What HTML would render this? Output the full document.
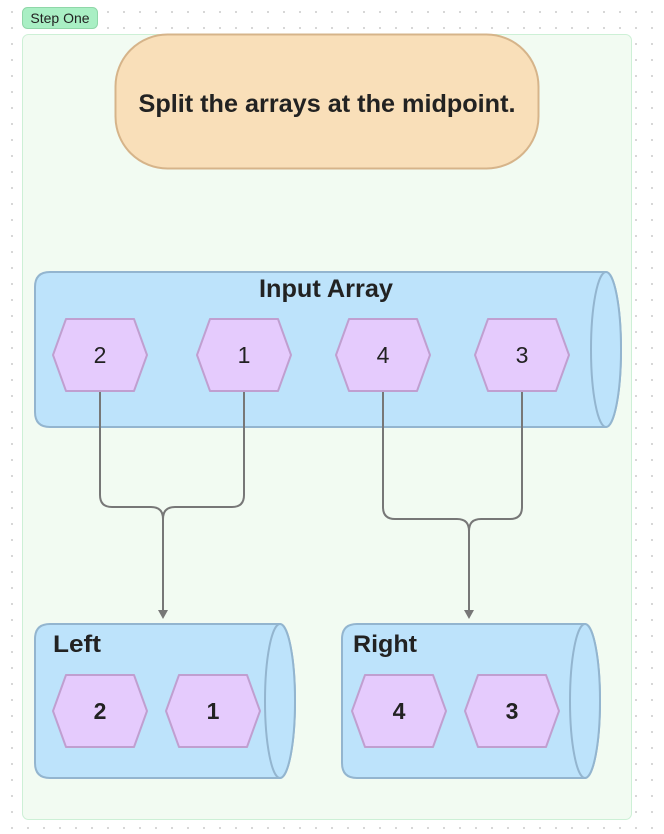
<!DOCTYPE html>
<html><head><style>
body{margin:0;width:664px;height:834px;overflow:hidden;background:#fff;
background-image:radial-gradient(circle,#cfcfcf 0.8px,transparent 1.2px);background-size:16px 16px;background-position:4px 4px;}
svg{position:absolute;left:0;top:0}
text{font-family:"Liberation Sans",sans-serif;fill:#222}
</style></head><body>
<svg width="664" height="834" viewBox="0 0 664 834">
<rect x="22.5" y="34.5" width="609" height="785" rx="6" fill="#f2fbf2" stroke="#cdf0d6"/>
<rect x="22.5" y="7.5" width="75" height="21" rx="5" fill="#a9efc4" stroke="#8fd7a8"/>
<text x="60" y="23" font-size="14" text-anchor="middle">Step One</text>
<rect x="115.5" y="34.5" width="423" height="134" rx="52" fill="#f9dfb9" stroke="#d6b48a" stroke-width="2"/>
<text x="327" y="112" font-size="25" font-weight="bold" text-anchor="middle" textLength="377" lengthAdjust="spacingAndGlyphs">Split the arrays at the midpoint.</text>

<g fill="#bde3fb" stroke="#93b5cf" stroke-width="2">
<path d="M50 272 H606 A15 77.5 0 0 1 606 427 H50 Q35 427 35 412 V287 Q35 272 50 272 Z"/>
<ellipse cx="606" cy="349.5" rx="15" ry="77.5"/>
<path d="M50 624 H280 A15 77 0 0 1 280 778 H50 Q35 778 35 763 V639 Q35 624 50 624 Z"/>
<ellipse cx="280" cy="701" rx="15" ry="77"/>
<path d="M357 624 H585 A15 77 0 0 1 585 778 H357 Q342 778 342 763 V639 Q342 624 357 624 Z"/>
<ellipse cx="585" cy="701" rx="15" ry="77"/>
</g>
<text x="326" y="297" font-size="25" font-weight="bold" text-anchor="middle" textLength="134" lengthAdjust="spacingAndGlyphs">Input Array</text>
<text x="53" y="652" font-size="24" font-weight="bold" textLength="48" lengthAdjust="spacingAndGlyphs">Left</text>
<text x="353" y="652" font-size="24" font-weight="bold" textLength="64" lengthAdjust="spacingAndGlyphs">Right</text>

<defs><polygon id="h" points="-47,0 -34,-36 34,-36 47,0 34,36 -34,36" fill="#e5cbfd" stroke="#c09fd0" stroke-width="2" stroke-linejoin="round"/></defs>
<use href="#h" x="100" y="355"/><use href="#h" x="244" y="355"/><use href="#h" x="383" y="355"/><use href="#h" x="522" y="355"/>
<use href="#h" x="100" y="711"/><use href="#h" x="213" y="711"/><use href="#h" x="399" y="711"/><use href="#h" x="512" y="711"/>
<g font-size="23" text-anchor="middle">
<text x="100" y="363">2</text><text x="244" y="363">1</text><text x="383" y="363">4</text><text x="522" y="363">3</text>
</g>
<g font-size="23" font-weight="bold" text-anchor="middle">
<text x="100" y="719">2</text><text x="213" y="719">1</text><text x="399" y="719">4</text><text x="512" y="719">3</text>
</g>

<g fill="none" stroke="#777" stroke-width="2">
<path d="M100 392 V495 Q100 507 112 507 H151 Q163 507 163 519 V612"/>
<path d="M244 392 V495 Q244 507 232 507 H175 Q163 507 163 519"/>
<path d="M383 392 V507 Q383 519 395 519 H457 Q469 519 469 531 V612"/>
<path d="M522 392 V507 Q522 519 510 519 H481 Q469 519 469 531"/>
</g>
<polygon points="158,610 168,610 163,619" fill="#777"/>
<polygon points="464,610 474,610 469,619" fill="#777"/>
</svg>
</body></html>
